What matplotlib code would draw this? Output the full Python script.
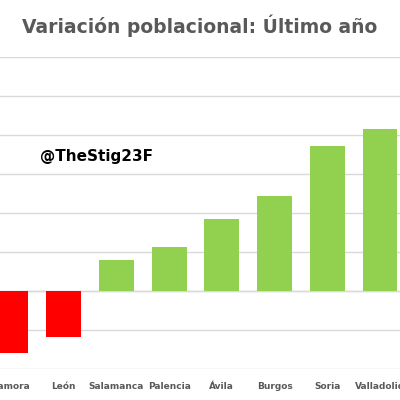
import matplotlib.pyplot as plt

provinces = ['Zamora', 'León', 'Salamanca', 'Palencia', 'Ávila', 'Burgos', 'Soria', 'Valladolid']
values = [-1.6, -1.18, 0.8, 1.13, 1.84, 2.44, 3.72, 4.15]
colors = ['#ff0000' if v < 0 else '#92d050' for v in values]

fig = plt.figure(figsize=(4, 4), dpi=100)
ax = fig.add_axes([0, 0.0775, 1, 0.78])
xs = range(len(values))
ax.bar(xs, values, width=0.66, color=colors, zorder=2)
ax.set_xlim(-0.21, 7.38)
ax.set_ylim(-2, 6)
ax.set_yticks(range(-2, 7))
ax.grid(axis='y', color='#d9d9d9', linewidth=1, zorder=0)
ax.tick_params(left=False, labelleft=False, bottom=False, pad=6)
ax.set_xticks(list(xs))
ax.set_xticklabels(provinces, fontsize=6.5, fontweight='bold', color='#595959')
for s in ax.spines.values():
    s.set_visible(False)
ax.axhline(0, color='#d9d9d9', linewidth=1, zorder=1)

fig.text(0.5, 0.935, 'Variación poblacional: Último año', ha='center', va='center',
         fontsize=13.5, fontweight='bold', color='#595959')
ax.text(0.1, 0.608, '@TheStig23F', transform=fig.transFigure, fontsize=11,
        fontweight='bold', color='black', va='center')
fig.savefig('out.png')
